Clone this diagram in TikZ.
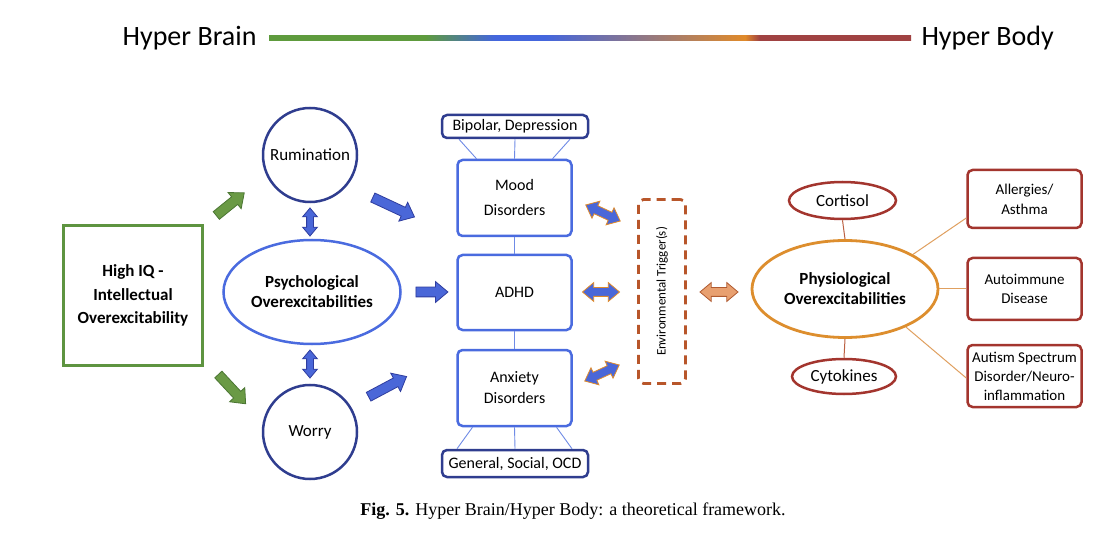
\documentclass[tikz,border=0pt]{standalone}
\usepackage{fontspec}
\setmainfont{Carlito}
\newfontfamily\capfont{Liberation Serif}
\usetikzlibrary{shapes.geometric,shapes.arrows}
\definecolor{navy}{HTML}{2F3D8F}
\definecolor{mblue}{HTML}{4A6BDF}
\definecolor{lblue}{HTML}{6F8BE6}
\definecolor{ggreen}{HTML}{5E9440}
\definecolor{agreen}{HTML}{6A9A45}
\definecolor{afill}{HTML}{4A67D8}
\definecolor{aline}{HTML}{2F3D9F}
\definecolor{trig}{HTML}{B8562A}
\definecolor{porange}{HTML}{DD8E2E}
\definecolor{dred}{HTML}{A3352E}
\definecolor{lorange}{HTML}{E0A060}
\definecolor{ofill}{HTML}{E8A070}
\definecolor{oline}{HTML}{B05A30}
\definecolor{tgreen}{HTML}{5E9B3D}
\definecolor{tblue}{HTML}{4466DD}
\definecolor{torange}{HTML}{E08A2A}
\definecolor{tred}{HTML}{A04242}
\pgfdeclarehorizontalshading{titlegrad}{100bp}{color(0bp)=(tgreen); color(37.15bp)=(tgreen); color(42.6bp)=(tblue); color(46.5bp)=(tblue); color(62.07bp)=(torange); color(63.2bp)=(tred); color(100bp)=(tred)}
\begin{document}
\begin{tikzpicture}[x=1pt,y=-1pt,
  txt/.style={font=\fontsize{16}{21}\selectfont, align=center},
  circ/.style={circle, draw=navy, line width=2.5pt, minimum size=94pt, inner sep=0pt, align=center, font=\fontsize{17}{21}\selectfont},
  bbox/.style={draw=mblue, line width=2.5pt, rounded corners=5pt, minimum width=114pt, inner sep=0pt, txt},
  nbox/.style={draw=navy, line width=2.5pt, rounded corners=5pt, minimum width=146pt, inner sep=0pt, txt},
  rbox/.style={draw=dred, line width=2.5pt, rounded corners=5pt, minimum width=114pt, inner sep=0pt, txt},
  roval/.style={ellipse, draw=dred, line width=2.5pt, inner sep=0pt, align=center, font=\fontsize{17}{21}\selectfont},
  thinb/.style={draw=lblue, line width=0.9pt},
  thino/.style={draw=lorange, line width=1pt},
  fatarrow/.style={single arrow, draw=aline, fill=afill, line width=0.8pt, inner xsep=0pt, inner ysep=4.5pt,
     single arrow head extend=5.5pt, single arrow tip angle=80},
  garrow/.style={fatarrow, draw=ggreen!80!black, fill=agreen},
  dblarrow/.style={double arrow, draw=torange, fill=afill, line width=0.8pt, inner xsep=0pt, inner ysep=4pt,
     double arrow head extend=5pt, double arrow tip angle=80},
  vdbl/.style={dblarrow, draw=aline, inner ysep=3pt, double arrow head extend=4pt},
  odbl/.style={dblarrow, draw=oline, fill=ofill}
]
\useasboundingbox[fill=white] (0,0) rectangle (1119,537);

% title
\node[font=\fontsize{28}{30}\selectfont, anchor=east] (hbrain) at (260,38) {Hyper Brain};
\node[font=\fontsize{28}{30}\selectfont, anchor=west] (hbody) at (918,38) {Hyper Body};
\path[shading=titlegrad] (269,35.5) rectangle (911,40.5);

% left part
\node[draw=ggreen, line width=3pt, minimum width=139pt, minimum height=140pt, align=center, font=\bfseries\fontsize{17}{23.5}\selectfont] (iq) at (133,295.5) {High IQ -\\Intellectual\\Overexcitability};
\node[circ] (rum) at (310,155) {Rumination};
\node[circ] (wor) at (310,432) {Worry};
\node[ellipse, draw=mblue, line width=2.5pt, minimum width=177pt, minimum height=104pt, inner sep=0pt] (psy) at (312,292) {};
\node[align=center, font=\bfseries\fontsize{17}{20}\selectfont] (psyt) at (psy.center) {Psychological\\Overexcitabilities};

\node[garrow, minimum height=36pt, rotate=39] (ga1) at (228,206) {};
\node[garrow, minimum height=40pt, rotate=-47] (ga2) at (230,387) {};
\node[vdbl, minimum height=28pt, rotate=90] (va1) at (310,222) {};
\node[vdbl, minimum height=28pt, rotate=90] (va2) at (310,364) {};
\node[fatarrow, minimum height=46pt, rotate=-25] (ba1) at (391,206) {};
\node[fatarrow, minimum height=43pt, rotate=28] (ba2) at (385,388) {};
\node[fatarrow, minimum height=32pt] (ba3) at (429,292) {};

% middle
\node[nbox, minimum height=23pt] (bip) at (515,126.5) {Bipolar, Depression};
\node[bbox, minimum height=76pt, font=\fontsize{16}{25}\selectfont] (mood) at (514.5,198) {Mood\\Disorders};
\node[bbox, minimum height=75pt] (adhd) at (514.5,292.5) {ADHD};
\node[bbox, minimum height=76pt] (anx) at (514.5,388) {Anxiety\\Disorders};
\node[nbox, minimum height=27pt] (gen) at (515,463.5) {General, Social, OCD};

\draw[thinb] ([xshift=-56pt]bip.south) -- ([xshift=-38pt]mood.north);
\draw[thinb] (bip.south) -- (mood.north);
\draw[thinb] ([xshift=55pt]bip.south) -- ([xshift=38pt]mood.north);
\draw[thinb] (mood.south) -- (adhd.north);
\draw[thinb] (adhd.south) -- (anx.north);
\draw[thinb] ([xshift=-42pt]anx.south) -- ([xshift=-58pt]gen.north);
\draw[thinb] (anx.south) -- (gen.north);
\draw[thinb] ([xshift=42pt]anx.south) -- ([xshift=57pt]gen.north);

\node[dblarrow, minimum height=38pt, rotate=-25] (da1) at (603,213) {};
\node[dblarrow, minimum height=37pt] (da2) at (601,292) {};
\node[dblarrow, minimum height=38pt, rotate=25] (da3) at (602,373) {};

\node[draw=trig, line width=2.8pt, dash pattern=on 9pt off 6pt, rounded corners=5pt,
  minimum width=47pt, minimum height=184pt, inner sep=0pt] (trg) at (662,291.5) {};
\node[rotate=90, font=\fontsize{13}{15}\selectfont] (trgt) at (trg.center) {Environmental Trigger(s)};

\node[odbl, minimum height=38pt] (oa) at (719,292) {};

% right part
\node[ellipse, draw=porange, line width=2.8pt, minimum width=186pt, minimum height=97pt, inner sep=0pt] (phy) at (845,289) {};
\node[align=center, font=\bfseries\fontsize{17}{20}\selectfont] (phyt) at (phy.center) {Physiological\\Overexcitabilities};
\node[roval, minimum width=107pt, minimum height=37pt] (cort) at (842.5,200.5) {Cortisol};
\node[roval, minimum width=104pt, minimum height=35pt] (cyt) at (844,376.5) {Cytokines};
\node[rbox, minimum height=58pt, font=\fontsize{15}{20}\selectfont] (all) at (1024.5,199) {Allergies/\\Asthma};
\node[rbox, minimum height=62pt, font=\fontsize{15}{19}\selectfont] (aut) at (1024.5,289) {Autoimmune\\Disease};
\node[rbox, minimum height=62pt, font=\fontsize{15}{19}\selectfont] (asd) at (1024.5,376) {Autism Spectrum\\Disorder/Neuro-\\inflammation};

\draw[thino, draw=dred!60!lorange] (cort.south) -- (phy.north);
\draw[thino, draw=dred!60!lorange] (phy.south) -- (cyt.north);
\draw[thino] (phy.27) -- ([yshift=-19pt]all.west);
\draw[thino] (phy.east) -- (aut.west);
\draw[thino] (phy.-32) -- ([yshift=-2pt]asd.west);

% caption
\node[font=\capfont\fontsize{18}{20}\selectfont] (cap) at (573,511) {\textbf{Fig. 5.} Hyper Brain/Hyper Body: a theoretical framework.};
\end{tikzpicture}
\end{document}
